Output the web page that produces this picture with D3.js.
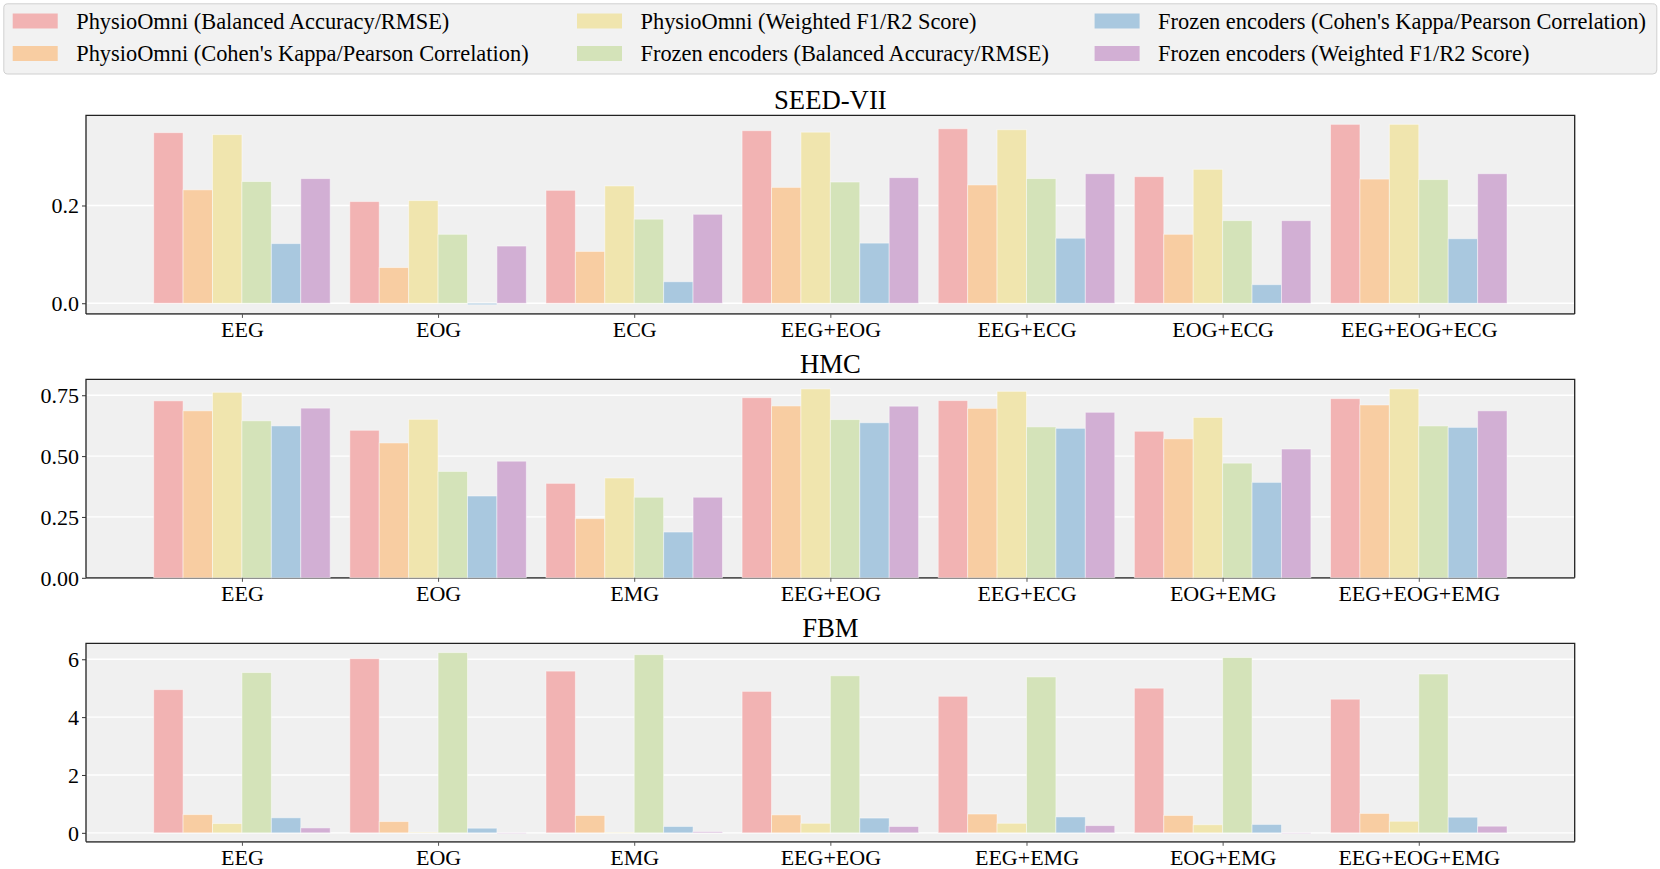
<!DOCTYPE html>
<html>
<head>
<meta charset="utf-8">
<script src="https://cdn.jsdelivr.net/npm/d3@7"></script>
<style>
  html, body { margin: 0; padding: 0; background: #fff; }
  svg { display: block; }
  text { font-family: "Liberation Serif", "Times New Roman", serif; fill: #000; }
</style>
</head>
<body>
<svg id="chart" width="1660" height="869"></svg>
<script>
// ---------- DATA ----------
const seriesNames = [
  "PhysioOmni (Balanced Accuracy/RMSE)",
  "PhysioOmni (Cohen's Kappa/Pearson Correlation)",
  "PhysioOmni (Weighted F1/R2 Score)",
  "Frozen encoders (Balanced Accuracy/RMSE)",
  "Frozen encoders (Cohen's Kappa/Pearson Correlation)",
  "Frozen encoders (Weighted F1/R2 Score)"
];
const seriesColors = ["#f2b3b3", "#f8cda2", "#f0e5ae", "#d4e3b9", "#a9c8df", "#d2afd4"];

const seedCats = ["EEG", "EOG", "ECG", "EEG+EOG", "EEG+ECG", "EOG+ECG", "EEG+EOG+ECG"];
const seedValues = [
  [0.349, 0.208, 0.231, 0.353, 0.357, 0.259, 0.366],
  [0.232, 0.073, 0.106, 0.237, 0.242, 0.141, 0.254],
  [0.345, 0.210, 0.240, 0.350, 0.355, 0.274, 0.366],
  [0.249, 0.141, 0.172, 0.248, 0.255, 0.169, 0.253],
  [0.122, -0.003, 0.044, 0.123, 0.133, 0.038, 0.132],
  [0.255, 0.117, 0.182, 0.257, 0.265, 0.169, 0.265]
];
const seedTicks = [0.0, 0.2];

const hmcCats = ["EEG", "EOG", "EMG", "EEG+EOG", "EEG+ECG", "EOG+EMG", "EEG+EOG+EMG"];
const hmcValues = [
  [0.727, 0.606, 0.388, 0.740, 0.728, 0.602, 0.736],
  [0.686, 0.554, 0.243, 0.706, 0.696, 0.571, 0.710],
  [0.762, 0.651, 0.410, 0.776, 0.766, 0.659, 0.776],
  [0.645, 0.437, 0.331, 0.650, 0.620, 0.471, 0.624],
  [0.624, 0.336, 0.188, 0.637, 0.614, 0.392, 0.618],
  [0.697, 0.479, 0.331, 0.705, 0.680, 0.529, 0.686]
];
const hmcTicks = [0.0, 0.25, 0.5, 0.75];

const fbmCats = ["EEG", "EOG", "EMG", "EEG+EOG", "EEG+EMG", "EOG+EMG", "EEG+EOG+EMG"];
const fbmValues = [
  [4.95, 6.02, 5.59, 4.89, 4.72, 5.00, 4.62],
  [0.63, 0.39, 0.60, 0.62, 0.65, 0.60, 0.67],
  [0.32, 0.02, 0.01, 0.33, 0.33, 0.28, 0.40],
  [5.54, 6.23, 6.16, 5.43, 5.39, 6.06, 5.49],
  [0.52, 0.16, 0.22, 0.51, 0.55, 0.29, 0.54],
  [0.17, -0.01, 0.04, 0.22, 0.25, 0.00, 0.23]
];
const fbmTicks = [0, 2, 4, 6];

// ---------- LAYOUT ----------
const svg = d3.select("#chart");
const left = 86, right = 1574.7, panelH = 198.5;
const panels = [
  { title: "SEED-VII", cats: seedCats, values: seedValues, ticks: seedTicks, fmt: d3.format(".1f"), domain: [-0.0218, 0.3843], top: 115.4 },
  { title: "HMC", cats: hmcCats, values: hmcValues, ticks: hmcTicks, fmt: d3.format(".2f"), domain: [0, 0.8155], top: 379.3 },
  { title: "FBM", cats: fbmCats, values: fbmValues, ticks: fbmTicks, fmt: d3.format("d"), domain: [-0.31, 6.552], top: 643.3 }
];
const barW = 0.15;
const nS = seriesNames.length;

const x = d3.scaleLinear().domain([-0.795, 6.795]).range([left, right]);

panels.forEach(p => {
  const y = d3.scaleLinear().domain(p.domain).range([p.top + panelH, p.top]);
  const g = svg.append("g");

  g.append("rect").attr("x", left).attr("y", p.top)
    .attr("width", right - left).attr("height", panelH).attr("fill", "#f0f0f0");

  g.selectAll(".grid").data(p.ticks).join("line")
    .attr("x1", left).attr("x2", right)
    .attr("y1", d => y(d)).attr("y2", d => y(d))
    .attr("stroke", "#ffffff").attr("stroke-width", 1.3);

  g.append("line").attr("x1", left).attr("x2", right)
    .attr("y1", p.top + panelH).attr("y2", p.top + panelH)
    .attr("stroke", "#555").attr("stroke-width", 1.8);

  p.values.forEach((vals, si) => {
    g.selectAll(null).data(vals).join("rect")
      .attr("x", (d, ci) => x(ci + (si - (nS - 1) / 2) * barW - barW / 2))
      .attr("width", x(barW) - x(0))
      .attr("y", d => Math.min(y(d), y(0)))
      .attr("height", d => Math.max(Math.abs(y(d) - y(0)), 0.6))
      .attr("fill", seriesColors[si])
      .attr("stroke", "#ffffff").attr("stroke-opacity", 0.45).attr("stroke-width", 1);
  });

  g.append("path")
    .attr("d", `M${left},${p.top + panelH} L${left},${p.top} L${right},${p.top} L${right},${p.top + panelH}`)
    .attr("fill", "none").attr("stroke", "#222").attr("stroke-width", 1.3);

  const xAxis = d3.axisBottom(x)
    .tickValues(d3.range(p.cats.length))
    .tickFormat(i => p.cats[i])
    .tickSize(4).tickPadding(2);
  const xa = g.append("g").attr("transform", `translate(0,${p.top + panelH})`).call(xAxis);
  xa.select(".domain").remove();
  xa.selectAll(".tick line").attr("stroke", "#555").attr("stroke-width", 1);
  xa.selectAll(".tick text").attr("font-size", 22).attr("fill", "#000")
    .attr("font-family", "Liberation Serif, serif").attr("dy", "0.76em");

  const yAxis = d3.axisLeft(y).tickValues(p.ticks).tickFormat(p.fmt).tickSize(4).tickPadding(3);
  const ya = g.append("g").attr("transform", `translate(${left},0)`).call(yAxis);
  ya.select(".domain").remove();
  ya.selectAll(".tick line").attr("stroke", "#333").attr("stroke-width", 1);
  ya.selectAll(".tick text").attr("font-size", 22).attr("fill", "#000")
    .attr("font-family", "Liberation Serif, serif").attr("dy", "0.33em");

  g.append("text").attr("x", (left + right) / 2).attr("y", p.top - 6)
    .attr("text-anchor", "middle").attr("font-size", 26.7).text(p.title);
});

// ---------- LEGEND ----------
const lg = svg.append("g");
lg.append("rect").attr("x", 3.8).attr("y", 3.8).attr("width", 1653).attr("height", 70.2)
  .attr("rx", 4).attr("fill", "#f2f2f2").attr("stroke", "#d0d0d0").attr("stroke-width", 1);
const colX = [12.7, 577, 1094.6];
const rowY = [21, 53.5];
seriesNames.forEach((name, i) => {
  const col = Math.floor(i / 2), row = i % 2;
  lg.append("rect").attr("x", colX[col]).attr("y", rowY[row] - 7.5)
    .attr("width", 45).attr("height", 15).attr("fill", seriesColors[i]);
  lg.append("text").attr("x", colX[col] + 63.5).attr("y", rowY[row])
    .attr("dy", "0.35em").attr("font-size", 22.4).text(name);
});
</script>
</body>
</html>
